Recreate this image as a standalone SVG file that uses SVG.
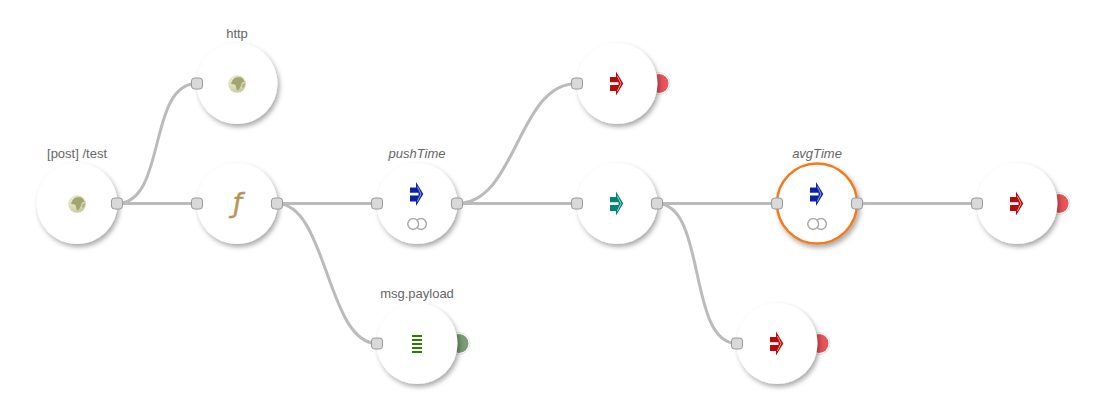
<svg xmlns="http://www.w3.org/2000/svg" width="1109" height="407" viewBox="0 0 1109 407">
<style>
.body{fill:#fff;filter:url(#sh)}
.sel{stroke:#f47a1f;stroke-width:2.5}
.port{fill:#d9d9d9;stroke:#999;stroke-width:1}
.lbl{font-family:"Liberation Sans",Arial,sans-serif;font-size:13px;fill:#666;text-anchor:middle}
.it{font-style:italic}
.wire{fill:none;stroke:#bbb;stroke-width:3}
.tog{fill:#fff;stroke:#aaa;stroke-width:1.5}
.list{stroke:#2f7a00;stroke-width:1.8}
.ring{fill:#fff;stroke:#ddd;stroke-width:0.8}
.slv{fill:none;stroke:#fff;stroke-width:0.8;stroke-opacity:0.75}
</style>
<defs>
<filter id="sh" x="-30%" y="-30%" width="170%" height="170%">
<feDropShadow dx="2" dy="3" stdDeviation="2.6" flood-color="#000" flood-opacity="0.34"/>
</filter>
<linearGradient id="red" x1="0" x2="1"><stop offset="0" stop-color="#d8505a"/><stop offset="1" stop-color="#f05358"/></linearGradient>
<linearGradient id="grn" x1="0" x2="1"><stop offset="0" stop-color="#6f9a6c"/><stop offset="1" stop-color="#7e9c78"/></linearGradient>
<radialGradient id="glb" cx="0.3" cy="0.3" r="0.85"><stop offset="0" stop-color="#eeeed8"/><stop offset="1" stop-color="#c4c698"/></radialGradient>
<g id="arr">
<path d="M-7 -6.500H-1V-12L6.300 0L-1 12V7.500H-7V1.500H1.500V-1.200H-7Z"/>
<path class="slv" d="M0.300 -7.500L4 0L0.300 7.500"/>
</g>
<g id="globe">
<circle cx="0" cy="0" r="8.800" fill="url(#glb)"/>
<path d="M-3 -5.500C-1 -7 3 -7.500 5.500 -5.500L7.500 -2.500L5 -1.500L4 1.500L2 5.500L0 6.500L-1 2.500L-2 0.500L-6 0L-5 -3Z" fill="#a3a56e"/>
<path d="M5.500 0L8 -0.500L7 3.500L5 3.500Z" fill="#afb17c"/>
</g>
<rect id="p" class="port" x="-5.500" y="-5.500" width="11" height="11" rx="3"/>
<g id="toggle">
<circle class="tog" cx="4" cy="0" r="5.400"/>
<circle class="tog" cx="-3.800" cy="0" r="5.400"/>
</g>
</defs>
<g id="connectors">
<path class="wire" d="M117 203.500C167 203.500 147 83.500 197 83.500"/>
<path class="wire" d="M117 203.500H197"/>
<path class="wire" d="M277 203.500H377"/>
<path class="wire" d="M277 203.500C327 203.500 327 343.500 377 343.500"/>
<path class="wire" d="M457 203.500H577"/>
<path class="wire" d="M457 203.500C517 203.500 517 83.500 577 83.500"/>
<path class="wire" d="M657 203.500H777"/>
<path class="wire" d="M657 203.500C707 203.500 687 343.500 737 343.500"/>
<path class="wire" d="M857 203.500H977"/>
</g>
<g id="node-post" transform="translate(77 203.500)">
<text class="lbl" y="-46">[post] /test</text>
<circle class="body" r="40.500"/>
<use href="#globe" y="0.500"/>
<use href="#p" x="40"/>
</g>
<g id="node-http" transform="translate(237 83.500)">
<text class="lbl" y="-46">http</text>
<circle class="body" r="40.500"/>
<use href="#globe" y="0.500"/>
<use href="#p" x="-40"/>
</g>
<g id="node-func" transform="translate(237 203.500)">
<circle class="body" r="40.500"/>
<text x="0.500" y="8" font-family="'DejaVu Sans',sans-serif" font-style="italic" font-size="26" fill="#b8935a" stroke="#b8935a" stroke-width="0.5" text-anchor="middle">ƒ</text>
<use href="#p" x="-40"/>
<use href="#p" x="40"/>
</g>
<g id="node-pushTime" transform="translate(417 203.500)">
<text class="lbl it" y="-46">pushTime</text>
<circle class="body" r="40.500"/>
<use href="#arr" y="-9.500" fill="#0a22a8"/>
<use href="#toggle" y="20.500"/>
<use href="#p" x="-40"/>
<use href="#p" x="40"/>
</g>
<g id="node-out-top" transform="translate(617 83.500)">
<circle class="ring" cx="42" r="11"/>
<circle cx="42" r="9.500" fill="url(#red)"/>
<circle class="body" r="40.500"/>
<use href="#arr" fill="#b80a0a"/>
<use href="#p" x="-40"/>
</g>
<g id="node-mid" transform="translate(617 203.500)">
<circle class="body" r="40.500"/>
<use href="#arr" fill="#00857a"/>
<use href="#p" x="-40"/>
<use href="#p" x="40"/>
</g>
<g id="node-avgTime" transform="translate(817 203.500)">
<text class="lbl it" y="-46">avgTime</text>
<circle class="body sel" r="40"/>
<use href="#arr" y="-9.500" fill="#0a22a8"/>
<use href="#toggle" y="20.500"/>
<use href="#p" x="-40"/>
<use href="#p" x="40"/>
</g>
<g id="node-out-right" transform="translate(1017 203.500)">
<circle class="ring" cx="42" r="11"/>
<circle cx="42" r="9.500" fill="url(#red)"/>
<circle class="body" r="40.500"/>
<use href="#arr" fill="#b80a0a"/>
<use href="#p" x="-40"/>
</g>
<g id="node-out-bottom" transform="translate(777 343.500)">
<circle class="ring" cx="42" r="11"/>
<circle cx="42" r="9.500" fill="url(#red)"/>
<circle class="body" r="40.500"/>
<use href="#arr" fill="#b80a0a"/>
<use href="#p" x="-40"/>
</g>
<g id="node-debug" transform="translate(417 343.500)">
<text class="lbl" y="-46">msg.payload</text>
<circle class="ring" cx="42" r="11"/>
<circle cx="42" r="9.500" fill="url(#grn)"/>
<circle class="body" r="40.500"/>
<path class="list" d="M-5 -7.500H5M-5 -3.500H5M-5 0.500H5M-5 4.500H5M-5 8.500H5"/>
<use href="#p" x="-40"/>
</g>
</svg>
